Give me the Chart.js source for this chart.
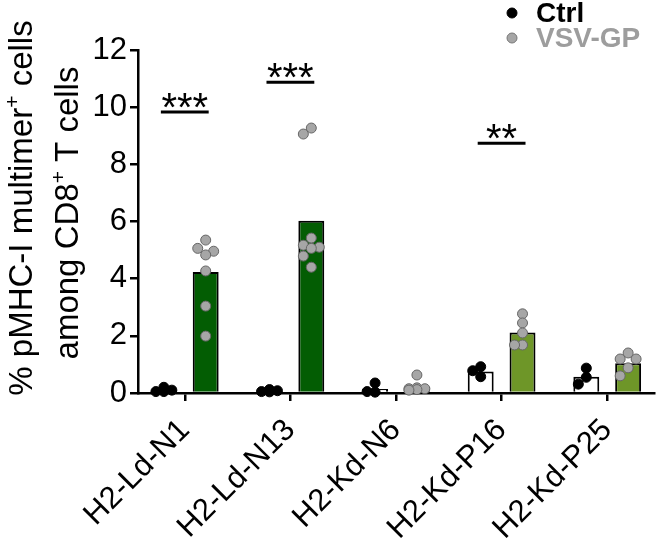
<!DOCTYPE html>
<html>
<head>
<meta charset="utf-8">
<script src="https://cdn.jsdelivr.net/npm/chart.js@4.4.1/dist/chart.umd.min.js"></script>
<style>
  html, body { margin: 0; padding: 0; background: #fff; }
  #wrap { width: 660px; height: 548px; }
</style>
</head>
<body>
<div id="wrap"><canvas id="c" width="660" height="548"></canvas></div>
<script>
// ---------- data ----------
const categories = ['H2-Ld-N1', 'H2-Ld-N13', 'H2-Kd-N6', 'H2-Kd-P16', 'H2-Kd-P25'];
const seriesNames = ['Ctrl', 'VSV-GP'];
const ctrlMeans = [0.1, 0.08, 0.14, 0.75, 0.57];
const vsvMeans = [4.23, 6.03, 0.22, 2.12, 1.04];
const ctrlPoints = [
  [0.2, 0.05, 0.1, 0.05],
  [0.12, 0.05, 0.08, 0.04],
  [0.35, 0.03, 0.05],
  [0.92, 0.78, 0.57],
  [0.87, 0.55, 0.31]
];
const vsvPoints = [
  [5.35, 5.06, 4.96, 4.83, 4.27, 3.04, 1.99],
  [9.27, 9.06, 5.42, 5.17, 5.1, 5.06, 4.79, 4.4],
  [0.63, 0.18, 0.15, 0.15, 0.12, 0.1],
  [2.77, 2.45, 2.1, 1.68, 1.68],
  [1.4, 1.19, 1.19, 0.88, 0.6]
];
const yTicks = [0, 2, 4, 6, 8, 10, 12];
const sigGroups = [0, 1, 3];
const sigLabels = ['***', '***', '**'];
const sigLevels = [9.83, 10.87, 8.74];

// ---------- styles ----------
const FONT = "'Liberation Sans', Arial, Helvetica, sans-serif";
const DARK_GREEN = '#035d03';
const OLIVE = '#6e9628';
const vsvColors = [DARK_GREEN, DARK_GREEN, DARK_GREEN, OLIVE, OLIVE];
const CAT_PCT = 0.792;
const BAR_PCT = 0.62;

// simple deterministic beeswarm placement (approximate pixel metrics), max one step sideways
const PX_X = 106, PX_Y = 28.6, MIN_D = 8.7, STEP = 8;
function swarm(vals, center) {
  const placed = [];
  return vals.map(v => {
    let best = 0, bestD = -1;
    for (const k of [0, -1, 1]) {
      const dx = k * STEP;
      const d = placed.reduce((m, p) => Math.min(m, Math.hypot(p.dx - dx, (p.v - v) * PX_Y)), Infinity);
      if (d >= MIN_D) { best = dx; bestD = d; break; }
      if (d > bestD) { bestD = d; best = dx; }
    }
    placed.push({dx: best, v});
    return {x: center + best / PX_X, y: v};
  });
}
const ctrlScatter = [].concat(...ctrlPoints.map((vals, i) => swarm(vals, i - CAT_PCT / 4)));
const vsvScatter = [].concat(...vsvPoints.map((vals, i) => swarm(vals, i + CAT_PCT / 4)));

Chart.defaults.font.family = FONT;
Chart.defaults.color = '#000';

// y-axis title with superscripts
const yTitlePlugin = {
  id: 'yTitle',
  afterDraw(chart) {
    const ctx = chart.ctx;
    const lines = [
      {parts: [['% pMHC-I multimer', false], ['+', true], [' cells', false]], x: 32, y: 208},
      {parts: [['among CD8', false], ['+', true], [' T cells', false]], x: 78, y: 213}
    ];
    const big = '33px ' + FONT, small = '21px ' + FONT;
    ctx.save();
    ctx.fillStyle = '#000';
    ctx.textBaseline = 'alphabetic';
    ctx.textAlign = 'left';
    lines.forEach(line => {
      let total = 0;
      line.parts.forEach(([t, sup]) => { ctx.font = sup ? small : big; total += ctx.measureText(t).width; });
      ctx.save();
      ctx.translate(line.x, line.y);
      ctx.rotate(-Math.PI / 2);
      let cx = -total / 2;
      line.parts.forEach(([t, sup]) => {
        ctx.font = sup ? small : big;
        ctx.fillText(t, cx, sup ? -13 : 0);
        cx += ctx.measureText(t).width;
      });
      ctx.restore();
    });
    ctx.restore();
  }
};

// legend (top right)
const legendPlugin = {
  id: 'customLegend',
  afterDraw(chart) {
    const ctx = chart.ctx;
    ctx.save();
    const items = [
      {name: seriesNames[0], dot: '#000', dotBorder: '#000', text: '#000', y: 13},
      {name: seriesNames[1], dot: '#a6a6a6', dotBorder: '#777', text: '#9d9d9d', y: 38}
    ];
    items.forEach(it => {
      ctx.beginPath();
      ctx.arc(512, it.y, 5, 0, Math.PI * 2);
      ctx.fillStyle = it.dot;
      ctx.fill();
      ctx.lineWidth = 1;
      ctx.strokeStyle = it.dotBorder;
      ctx.stroke();
      ctx.font = 'bold 28px ' + FONT;
      ctx.fillStyle = it.text;
      ctx.textAlign = 'left';
      ctx.textBaseline = 'middle';
      ctx.fillText(it.name, 536, it.y + 1);
    });
    ctx.restore();
  }
};

// significance bars
const sigPlugin = {
  id: 'sig',
  afterDraw(chart) {
    const ctx = chart.ctx;
    const y = chart.scales.y;
    const m0 = chart.getDatasetMeta(0), m1 = chart.getDatasetMeta(1);
    ctx.save();
    sigGroups.forEach((g, k) => {
      const x0 = m0.data[g].x - 3, x1 = m1.data[g].x + 3;
      const py = y.getPixelForValue(sigLevels[k]);
      ctx.beginPath();
      ctx.moveTo(x0, py);
      ctx.lineTo(x1, py);
      ctx.lineWidth = 3;
      ctx.strokeStyle = '#000';
      ctx.stroke();
      ctx.font = '40px ' + FONT;
      ctx.fillStyle = '#000';
      ctx.textAlign = 'center';
      ctx.textBaseline = 'alphabetic';
      const n = sigLabels[k].length, sp = 15.5;
      const mid = (x0 + x1) / 2;
      for (let i = 0; i < n; i++) {
        ctx.fillText('*', mid + (i - (n - 1) / 2) * sp, py + 9);
      }
    });
    ctx.restore();
  }
};

new Chart(document.getElementById('c'), {
  type: 'bar',
  data: {
    datasets: [
      {
        type: 'bar', label: seriesNames[0],
        data: ctrlMeans.map((v, i) => ({x: i, y: v})),
        backgroundColor: '#fff', borderColor: '#000', borderWidth: 2,
        categoryPercentage: CAT_PCT, barPercentage: BAR_PCT, order: 1
      },
      {
        type: 'bar', label: seriesNames[1],
        data: vsvMeans.map((v, i) => ({x: i, y: v})),
        backgroundColor: vsvColors, borderColor: '#000', borderWidth: 2,
        categoryPercentage: CAT_PCT, barPercentage: BAR_PCT, order: 1
      },
      {
        type: 'scatter', label: seriesNames[0] + ' points', data: ctrlScatter,
        backgroundColor: '#000', borderColor: '#000', borderWidth: 1,
        pointRadius: 5, showLine: false, clip: false, order: 0
      },
      {
        type: 'scatter', label: seriesNames[1] + ' points', data: vsvScatter,
        backgroundColor: '#a6a6a6', borderColor: '#666', borderWidth: 1,
        pointRadius: 5, showLine: false, clip: false, order: 0
      }
    ]
  },
  options: {
    responsive: false,
    animation: false,
    events: [],
    layout: {padding: {top: 50, right: 4, left: 0, bottom: 0}},
    plugins: {legend: {display: false}, tooltip: {enabled: false}},
    scales: {
      x: {
        type: 'linear', min: -0.443, max: 4.443, offset: false,
        afterBuildTicks: s => { s.ticks = categories.map((_, i) => ({value: i})); },
        afterFit: s => { s.height = 155; },
        ticks: {
          callback: v => categories[v], autoSkip: false,
          minRotation: 45, maxRotation: 45,
          font: {size: 31}, color: '#000', padding: 11
        },
        grid: {offset: false, drawOnChartArea: false, drawTicks: true, tickLength: 8, color: '#000', lineWidth: 2.5},
        border: {display: true, color: '#000', width: 2.5}
      },
      y: {
        type: 'linear', min: 0, max: 12,
        afterBuildTicks: s => { s.ticks = yTicks.map(v => ({value: v})); },
        afterFit: s => { s.width = 138; },
        ticks: {font: {size: 31}, color: '#000', padding: 3},
        grid: {drawOnChartArea: false, drawTicks: true, tickLength: 8, color: '#000', lineWidth: 2.5},
        border: {display: true, color: '#000', width: 2.5}
      }
    }
  },
  plugins: [yTitlePlugin, legendPlugin, sigPlugin]
});
</script>
</body>
</html>
